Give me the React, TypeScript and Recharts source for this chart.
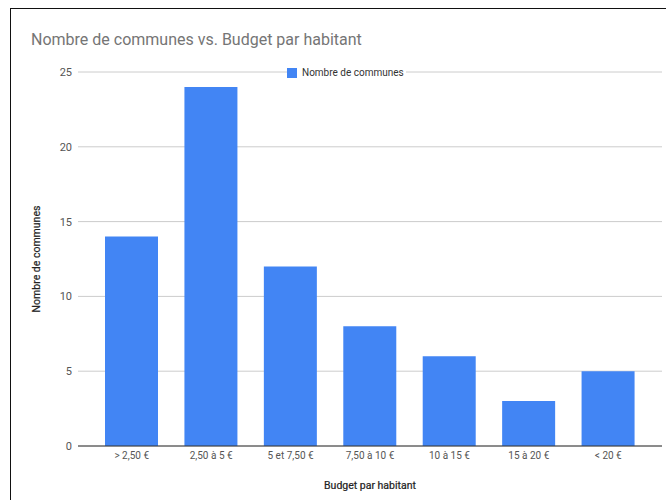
import React from 'react';
import {
  BarChart,
  Bar,
  CartesianGrid,
  Label,
  Legend,
  XAxis,
  YAxis,
} from 'recharts';

const categories = ['> 2,50 €', '2,50 à 5 €', '5 et 7,50 €', '7,50 à 10 €', '10 à 15 €', '15 à 20 €', '< 20 €'];
const communes = [14, 24, 12, 8, 6, 3, 5];
const yTicks = [0, 5, 10, 15, 20, 25];

const data = categories.map((c, i) => ({ budget: c, communes: communes[i] }));

const font = 'Roboto, "Noto Sans", sans-serif';

function LegendBox() {
  return (
    <div style={{ display: 'flex', alignItems: 'center', fontFamily: font, fontSize: 10, color: '#333' }}>
      <span style={{ width: 10, height: 10, background: '#4285F4', display: 'inline-block' }} />
      <span style={{ background: '#fff', paddingLeft: 5, paddingRight: 2, lineHeight: '13px' }}>
        Nombre de communes
      </span>
    </div>
  );
}

export default function App() {
  return (
    <div style={{ position: 'fixed', left: 0, top: 0, width: 666, height: 500, overflow: 'hidden', background: '#fff' }}>
      <div
        style={{
          position: 'absolute',
          left: 10,
          top: 8,
          width: 700,
          height: 520,
          borderTop: '1.5px solid #111',
          borderLeft: '1.5px solid #111',
        }}
      />
      <div
        style={{
          position: 'absolute',
          left: 31,
          top: 30,
          fontFamily: font,
          fontSize: 16,
          lineHeight: '20px',
          color: '#757575',
          whiteSpace: 'nowrap',
        }}
      >
        Nombre de communes vs. Budget par habitant
      </div>
      <div style={{ position: 'absolute', left: 0, top: 0 }}>
        <BarChart
          width={666}
          height={500}
          data={data}
          margin={{ top: 72, right: 4, bottom: 24, left: 18 }}
          barSize={53}
        >
          <CartesianGrid vertical={false} stroke="#cccccc" />
          <XAxis
            dataKey="budget"
            padding={{ left: 14, right: 14 }}
            tickLine={false}
            tickMargin={0}
            height={30}
            stroke="#333"
            tick={{ fill: '#555', fontSize: 10, fontFamily: font }}
          >
            <Label
              value="Budget par habitant"
              position="center"
              dy={24}
              style={{ fill: '#222', fontSize: 10.5, fontFamily: font, stroke: '#222', strokeWidth: 0.2 }}
            />
          </XAxis>
          <YAxis
            width={60}
            domain={[0, 25]}
            ticks={yTicks}
            axisLine={false}
            tickLine={false}
            tickMargin={0}
            tick={{ fill: '#555', fontSize: 11, fontFamily: font }}
          >
            <Label
              value="Nombre de communes"
              position="center"
              angle={-90}
              dx={-12}
              style={{ fill: '#222', fontSize: 10.5, fontFamily: font, stroke: '#222', strokeWidth: 0.2, textAnchor: 'middle' }}
            />
          </YAxis>
          <Legend
            layout="vertical"
            verticalAlign="middle"
            align="center"
            content={() => <LegendBox />}
            wrapperStyle={{ top: 66, left: 287, width: 'auto' }}
          />
          <Bar dataKey="communes" name="Nombre de communes" fill="#4285F4" isAnimationActive={false} />
        </BarChart>
      </div>
    </div>
  );
}
